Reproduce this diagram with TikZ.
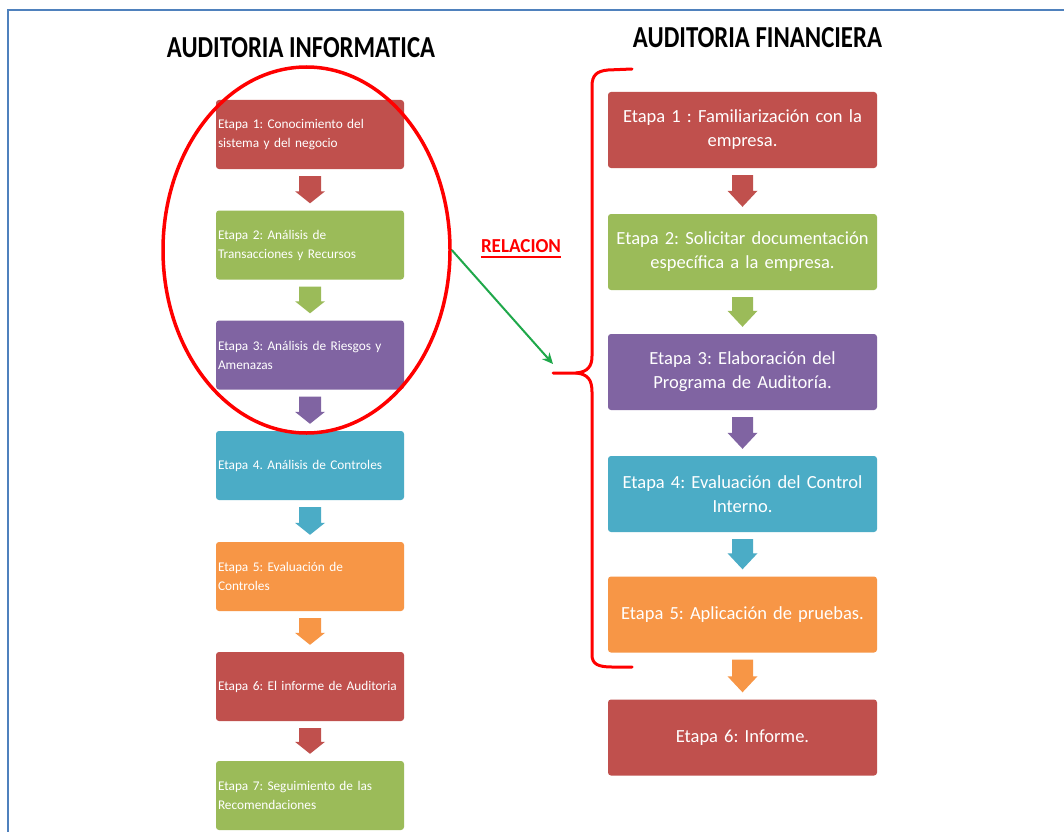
\documentclass[tikz,border=0pt]{standalone}
\usepackage{fontspec}
\setmainfont{Carlito}
\usetikzlibrary{shapes.geometric,calc,arrows.meta}

\definecolor{stRed}{HTML}{C0504D}
\definecolor{stGreen}{HTML}{9BBB59}
\definecolor{stPurple}{HTML}{8064A2}
\definecolor{stBlue}{HTML}{4BACC6}
\definecolor{stOrange}{HTML}{F79646}
\definecolor{frameBlue}{HTML}{4F81BD}
\definecolor{linkGreen}{HTML}{1FA84A}
\definecolor{markRed}{HTML}{FF0000}

\frenchspacing

\tikzset{
  lbox/.style={rectangle, rounded corners=3pt, minimum width=188pt, minimum height=69pt,
    text width=184pt, inner sep=2pt, align=left, text=white,
    font=\fontsize{13.3}{19}\selectfont},
  rbox/.style={rectangle, rounded corners=3pt, minimum width=269pt, minimum height=76pt,
    text width=265pt, inner sep=2pt, align=center, text=white,
    font=\fontsize{18.5}{24}\selectfont},
  title/.style={inner sep=0pt, anchor=base},
}

% block arrow pointing down from the bottom of #1 to the top of #2
% #3 colour, #4 shaft half width, #5 head half width, #6 head length
\newcommand\flowarrow[6]{%
  \fill[#3] let \p1=(#1.south), \p2=(#2.north) in
    (\x1-#4pt,\y1-7pt) -- (\x1+#4pt,\y1-7pt) -- (\x1+#4pt,\y2+7pt+#6pt)
    -- (\x1+#5pt,\y2+7pt+#6pt) -- (\x1,\y2+7pt) -- (\x1-#5pt,\y2+7pt+#6pt)
    -- (\x1-#4pt,\y2+7pt+#6pt) -- cycle;
}

\begin{document}
\begin{tikzpicture}[x=1pt,y=-1pt]
\useasboundingbox (0,0) rectangle (1064,832);
\fill[white] (0,0) rectangle (1064,832);

% page frame
\draw[frameBlue, line width=2.8pt] (1064,10) -- (8,10) -- (8,832);

% titles
\node[title] (tleft) at (301,58) {\resizebox{268pt}{20pt}{\bfseries AUDITORIA INFORMATICA}};
\node[title] (tright) at (757.5,48) {\resizebox{249pt}{20pt}{\bfseries AUDITORIA FINANCIERA}};

% left column
\node[lbox, fill=stRed]    (l1) at (310,134.5) {Etapa 1: Conocimiento del\\sistema y del negocio};
\node[lbox, fill=stGreen]  (l2) at (310,245)   {Etapa 2: Análisis de\\Transacciones y Recursos};
\node[lbox, fill=stPurple] (l3) at (310,355)   {Etapa 3: Análisis de Riesgos y\\Amenazas};
\node[lbox, fill=stBlue]   (l4) at (310,465.5) {Etapa 4. Análisis de Controles};
\node[lbox, fill=stOrange] (l5) at (310,576.5) {Etapa 5: Evaluación de\\Controles};
\node[lbox, fill=stRed]    (l6) at (310,686.5) {Etapa 6: El informe de Auditoria};
\node[lbox, fill=stGreen]  (l7) at (310,795.5) {Etapa 7: Seguimiento de las\\Recomendaciones};

\flowarrow{l1}{l2}{stRed}{11}{15}{12}
\flowarrow{l2}{l3}{stGreen}{11}{15}{12}
\flowarrow{l3}{l4}{stPurple}{11}{15}{12}
\flowarrow{l4}{l5}{stBlue}{11}{15}{12}
\flowarrow{l5}{l6}{stOrange}{11}{15}{12}
\flowarrow{l6}{l7}{stRed}{11}{15}{12}

% right column
\node[rbox, fill=stRed]    (r1) at (742.5,130)   {Etapa 1 : Familiarización con la\\empresa.};
\node[rbox, fill=stGreen]  (r2) at (742.5,252)   {Etapa 2: Solicitar documentación\\específica a la empresa.};
\node[rbox, fill=stPurple] (r3) at (742.5,372)   {Etapa 3: Elaboración del\\Programa de Auditoría.};
\node[rbox, fill=stBlue]   (r4) at (742.5,494)   {Etapa 4: Evaluación del Control\\Interno.};
\node[rbox, fill=stOrange] (r5) at (742.5,614.5) {Etapa 5: Aplicación de pruebas.};
\node[rbox, fill=stRed]    (r6) at (742.5,737.5) {Etapa 6: Informe.};

\flowarrow{r1}{r2}{stRed}{10.5}{15}{16}
\flowarrow{r2}{r3}{stGreen}{10.5}{15}{16}
\flowarrow{r3}{r4}{stPurple}{10.5}{15}{16}
\flowarrow{r4}{r5}{stBlue}{10.5}{15}{16}
\flowarrow{r5}{r6}{stOrange}{10.5}{15}{16}

% red oval around the first three stages
\node[ellipse, draw=markRed, line width=3.5pt, minimum width=287pt, minimum height=366pt,
      inner sep=0pt] (oval) at (306.5,250) {};

% red brace grouping stages 1 to 5 of the financial audit
\coordinate (brtip) at (553,373);
\draw[markRed, line width=3pt, line cap=round]
  (632,69) -- (608,70) .. controls (597,71) and (592,75) .. (592,86)
  -- (592,356) .. controls (592,366) and (588,372) .. (576,373) -- (brtip);
\draw[markRed, line width=3pt, line cap=round]
  (576,373) .. controls (588,374) and (592,380) .. (592,392)
  -- (592,655) .. controls (592,664) and (598,667) .. (612,667) -- (632,667);

% relation label and link
\node[inner sep=0pt, text=markRed] (rel) at (521,246.5)
  {\resizebox{80pt}{13pt}{\bfseries RELACION}};
\draw[markRed, line width=2pt] ($(rel.south west)+(0,4)$) -- ($(rel.south east)+(0,4)$);
\draw[linkGreen, line width=2pt, -{Stealth[length=11pt,width=10pt]}]
  (oval.east) -- ($(brtip)+(0,-9)$);
\end{tikzpicture}
\end{document}
